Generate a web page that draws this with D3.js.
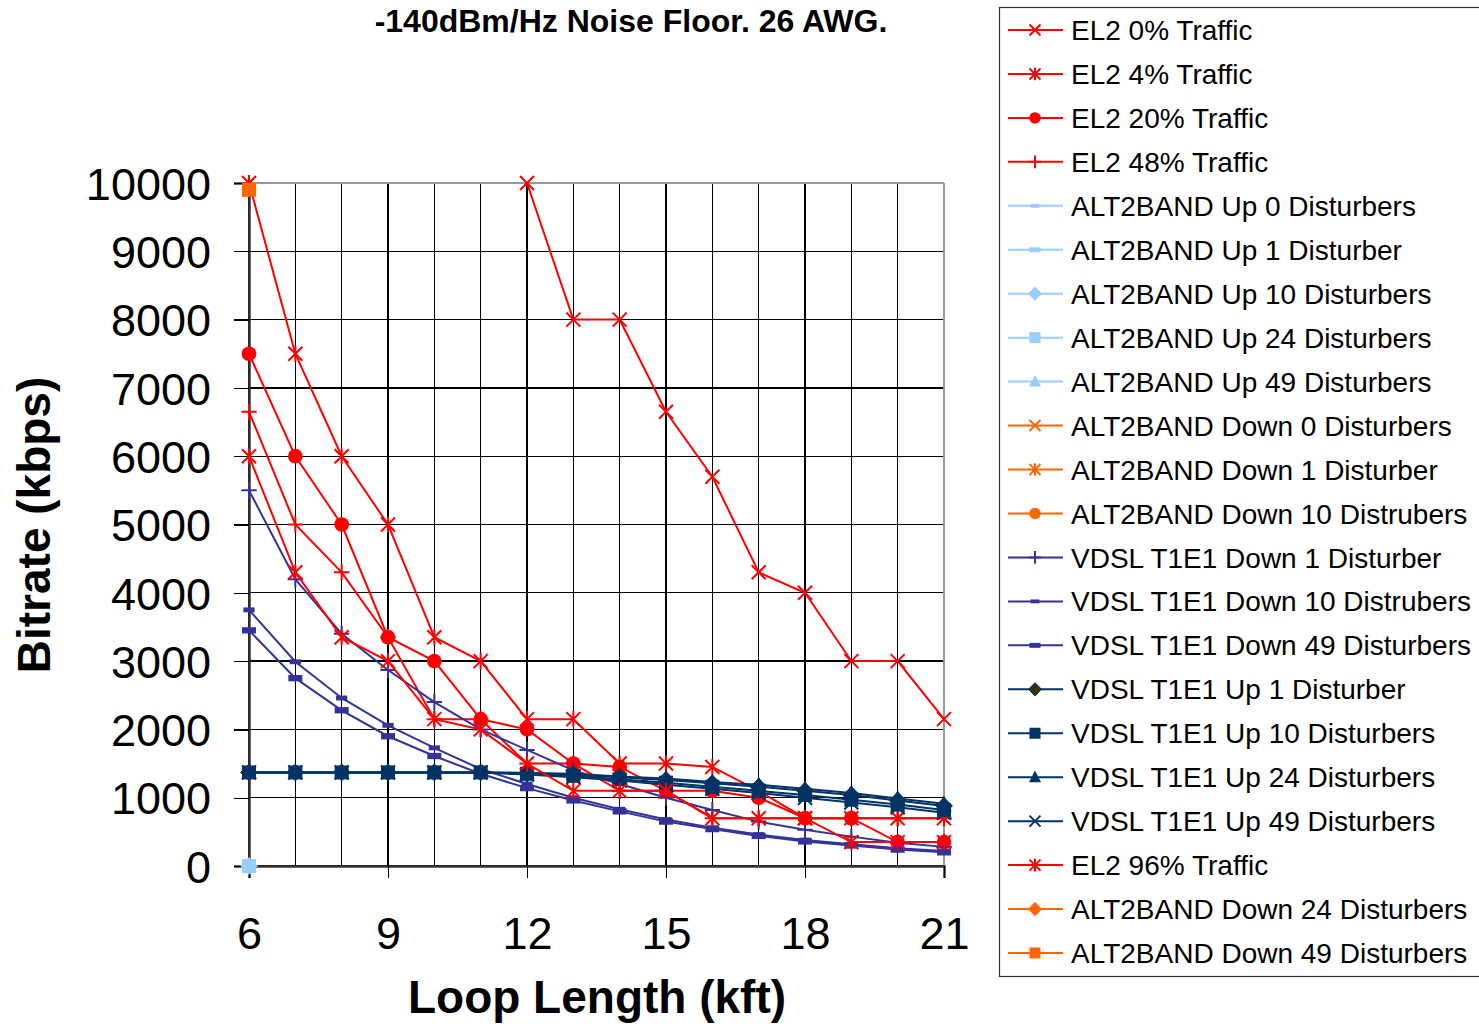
<html>
<head>
<meta charset="utf-8">
<script src="https://d3js.org/d3.v7.min.js"></script>
<style>
body { margin: 0; background: #fff; }
text { font-family: "Liberation Sans", Arial, sans-serif; }
</style>
</head>
<body>
<svg id="chart" width="1479" height="1024"></svg>
<script>
// loop lengths (kft) and tick labels
var loopKft = [6, 7, 8, 9, 10, 11, 12, 13, 14, 15, 16, 17, 18, 19, 20, 21];
var xTickValues = [6, 9, 12, 15, 18, 21];
var yTickValues = [0, 1000, 2000, 3000, 4000, 5000, 6000, 7000, 8000, 9000, 10000];

// bitrates (kbps); null = no visible point
var el2_0 = [null, null, null, null, null, null, 10000, 8000, 8000, 6650, 5700, 4300, 4000, 3000, 3000, 2150];
var el2_4 = [10000, 7500, 6000, 5000, 3350, 3000, 2150, 2150, 1500, 1500, 1450, 1100, 700, 700, 700, 700];
var el2_20 = [7500, 6000, 5000, 3350, 3000, 2150, 2000, 1500, 1450, 1100, 1100, 1000, 700, 700, 350, 350];
var el2_48 = [6650, 5000, 4300, 3350, 2150, 2150, 1500, 1500, 1100, 1100, 700, 700, 700, 700, 700, 700];
var el2_96 = [6000, 4300, 3350, 3000, 2150, 2000, 1500, 1100, 1100, 1100, 700, 700, 700, 350, 350, 350];

var altUp0 = [0, null, null, null, null, null, null, null, null, null, null, null, null, null, null, null];
var altUp1 = [0, null, null, null, null, null, null, null, null, null, null, null, null, null, null, null];
var altUp10 = [0, null, null, null, null, null, null, null, null, null, null, null, null, null, null, null];
var altUp24 = [0, null, null, null, null, null, null, null, null, null, null, null, null, null, null, null];
var altUp49 = [0, null, null, null, null, null, null, null, null, null, null, null, null, null, null, null];
var altDown0 = [];
var altDown1 = [];
var altDown10 = [];
var altDown24 = [];
var altDown49 = [9900, null, null, null, null, null, null, null, null, null, null, null, null, null, null, null];

var vdslDown1 = [5500, 4200, 3400, 2870, 2400, 2000, 1700, 1400, 1200, 1000, 820, 650, 530, 430, 340, 280];
var vdslDown10 = [3750, 2990, 2460, 2060, 1730, 1420, 1200, 1000, 830, 680, 560, 460, 380, 320, 260, 220];
var vdslDown49 = [3450, 2750, 2280, 1900, 1610, 1350, 1140, 960, 800, 650, 540, 440, 360, 300, 240, 200];

var vdslUp1 = [1370, 1370, 1370, 1370, 1370, 1370, 1360, 1340, 1300, 1260, 1210, 1160, 1100, 1040, 960, 880];
var vdslUp10 = [1370, 1370, 1370, 1370, 1370, 1370, 1350, 1320, 1270, 1220, 1160, 1100, 1040, 970, 900, 820];
var vdslUp24 = [1370, 1370, 1370, 1370, 1370, 1370, 1360, 1350, 1310, 1280, 1230, 1190, 1130, 1070, 990, 910];
var vdslUp49 = [1370, 1370, 1370, 1370, 1370, 1370, 1340, 1300, 1250, 1190, 1130, 1070, 1000, 930, 860, 780];

var seriesNames = ["EL2 0% Traffic", "EL2 4% Traffic", "EL2 20% Traffic", "EL2 48% Traffic",
  "ALT2BAND Up 0 Disturbers", "ALT2BAND Up 1 Disturber", "ALT2BAND Up 10 Disturbers",
  "ALT2BAND Up 24 Disturbers", "ALT2BAND Up 49 Disturbers", "ALT2BAND Down 0 Disturbers",
  "ALT2BAND Down 1 Disturber", "ALT2BAND Down 10 Distrubers", "VDSL T1E1 Down 1 Disturber",
  "VDSL T1E1 Down 10 Distrubers", "VDSL T1E1 Down 49 Disturbers", "VDSL T1E1 Up 1 Disturber",
  "VDSL T1E1 Up 10 Disturbers", "VDSL T1E1 Up 24 Disturbers", "VDSL T1E1 Up 49 Disturbers",
  "EL2 96% Traffic", "ALT2BAND Down 24 Disturbers", "ALT2BAND Down 49 Disturbers"];
var seriesValues = [el2_0, el2_4, el2_20, el2_48,
  altUp0, altUp1, altUp10, altUp24, altUp49, altDown0, altDown1, altDown10,
  vdslDown1, vdslDown10, vdslDown49, vdslUp1, vdslUp10, vdslUp24, vdslUp49,
  el2_96, altDown24, altDown49];

// styling per series
var red = "#ff0000", lblue = "#99ccff", orange = "#ff6600", blue = "#333399", navy = "#003366";
var styles = [
  {c: red, m: "x"}, {c: red, m: "star"}, {c: red, m: "circle"}, {c: red, m: "plus"},
  {c: lblue, m: "dashS"}, {c: lblue, m: "dashL"}, {c: lblue, m: "diamond"}, {c: lblue, m: "square"}, {c: lblue, m: "triangle"},
  {c: orange, m: "x"}, {c: orange, m: "star"}, {c: orange, m: "circle"},
  {c: blue, m: "plus"}, {c: blue, m: "dashS"}, {c: blue, m: "dashL"},
  {c: navy, m: "diamond", f: "#333300"}, {c: navy, m: "square"}, {c: navy, m: "triangle"}, {c: navy, m: "x"},
  {c: red, m: "star"}, {c: orange, m: "diamond"}, {c: orange, m: "square"}
];

var svg = d3.select("#chart");
var x = d3.scaleLinear().domain([6, 21]).range([249, 944]);
var y = d3.scaleLinear().domain([0, 10000]).range([866, 183]);

// grid
var grid = svg.append("g").attr("shape-rendering", "crispEdges");
grid.selectAll(".vg").data(loopKft).enter().append("line")
  .attr("x1", function(d) { return x(d); }).attr("x2", function(d) { return x(d); })
  .attr("y1", y(10000)).attr("y2", y(0))
  .attr("stroke", "#000").attr("stroke-width", 1.3);
grid.selectAll(".hg").data(yTickValues).enter().append("line")
  .attr("x1", x(6)).attr("x2", x(21))
  .attr("y1", function(d) { return y(d); }).attr("y2", function(d) { return y(d); })
  .attr("stroke", "#000").attr("stroke-width", 1.3);
// plot border top/right
grid.append("line").attr("x1", x(6)).attr("x2", x(21)).attr("y1", y(10000)).attr("y2", y(10000))
  .attr("stroke", "#999").attr("stroke-width", 2);
grid.append("line").attr("x1", x(21)).attr("x2", x(21)).attr("y1", y(10000)).attr("y2", y(0))
  .attr("stroke", "#999").attr("stroke-width", 2);

// axes
var yAxis = d3.axisLeft(y).tickValues(yTickValues).tickSize(15).tickPadding(23).tickFormat(d3.format("d"));
var gy = svg.append("g").attr("transform", "translate(" + x(6) + ",0)").call(yAxis);
var xAxis = d3.axisBottom(x).tickValues(xTickValues).tickSize(12).tickPadding(35).tickFormat(d3.format("d"));
var gx = svg.append("g").attr("transform", "translate(0," + y(0) + ")").call(xAxis);
[gx, gy].forEach(function(g) {
  g.select(".domain").attr("stroke", "#333").attr("stroke-width", 2.5);
  g.selectAll(".tick line").attr("stroke", "#000").attr("stroke-width", 1.3).attr("shape-rendering", "crispEdges");
  g.selectAll(".tick text").attr("fill", "#000").style("font-size", "45px")
    .style("font-family", "'Liberation Sans', Arial, sans-serif");
});
gy.selectAll(".tick text").attr("dy", "0.36em");
gx.selectAll(".tick text").attr("dy", "0.8em");

// marker drawing
function drawMarker(g, type, cx, cy, color, fill, s) {
  var sw = 2;
  if (type === "x" || type === "star" || type === "plus") {
    var p = "";
    if (type !== "plus") p += "M" + (cx - s) + "," + (cy - s) + "L" + (cx + s) + "," + (cy + s) +
      "M" + (cx - s) + "," + (cy + s) + "L" + (cx + s) + "," + (cy - s);
    if (type !== "x") p += "M" + cx + "," + (cy - s * 1.15) + "L" + cx + "," + (cy + s * 1.15);
    if (type === "plus") p += "M" + (cx - s * 1.1) + "," + cy + "L" + (cx + s * 1.1) + "," + cy;
    g.append("path").attr("d", p).attr("stroke", color).attr("stroke-width", sw).attr("fill", "none");
  } else if (type === "circle") {
    g.append("circle").attr("cx", cx).attr("cy", cy).attr("r", s * 1.05).attr("fill", color);
  } else if (type === "square") {
    g.append("rect").attr("x", cx - s).attr("y", cy - s).attr("width", 2 * s).attr("height", 2 * s).attr("fill", color);
  } else if (type === "dashS") {
    g.append("rect").attr("x", cx - s * 0.8).attr("y", cy - s * 0.35).attr("width", s * 1.6).attr("height", s * 0.7).attr("fill", color);
  } else if (type === "dashL") {
    g.append("rect").attr("x", cx - s).attr("y", cy - s * 0.45).attr("width", s * 2).attr("height", s * 0.9).attr("fill", color);
  } else if (type === "diamond") {
    g.append("path").attr("d", "M" + cx + "," + (cy - s * 1.2) + "L" + (cx + s * 1.2) + "," + cy + "L" + cx + "," + (cy + s * 1.2) + "L" + (cx - s * 1.2) + "," + cy + "Z")
      .attr("fill", fill || color).attr("stroke", color).attr("stroke-width", 1);
  } else if (type === "triangle") {
    g.append("path").attr("d", "M" + cx + "," + (cy - s * 1.2) + "L" + (cx + s * 1.1) + "," + (cy + s * 0.9) + "L" + (cx - s * 1.1) + "," + (cy + s * 0.9) + "Z")
      .attr("fill", color);
  }
}

// series
var line = d3.line()
  .defined(function(d) { return d[1] != null; })
  .x(function(d) { return x(d[0]); })
  .y(function(d) { return y(d[1]); });

seriesValues.forEach(function(vals, i) {
  var st = styles[i];
  var pts = loopKft.map(function(k, j) { return [k, vals[j] == null ? null : vals[j]]; });
  var g = svg.append("g");
  g.append("path").datum(pts).attr("d", line)
    .attr("fill", "none").attr("stroke", st.c).attr("stroke-width", 2);
  pts.filter(function(d) { return d[1] != null; }).forEach(function(d) {
    drawMarker(g, st.m, x(d[0]), y(d[1]), st.c, st.f, 7);
  });
});

// titles
svg.append("text").attr("x", 631).attr("y", 32).attr("text-anchor", "middle")
  .style("font-size", "32px").style("font-weight", "bold").text("-140dBm/Hz Noise Floor. 26 AWG.");
svg.append("text").attr("x", 597).attr("y", 1013).attr("text-anchor", "middle")
  .style("font-size", "46px").style("font-weight", "bold").text("Loop Length (kft)");
svg.append("text").attr("transform", "translate(50,525) rotate(-90)").attr("text-anchor", "middle")
  .style("font-size", "46px").style("font-weight", "bold").text("Bitrate (kbps)");

// legend
var legend = svg.append("g");
legend.append("rect").attr("x", 999.5).attr("y", 7.5).attr("width", 500).attr("height", 969)
  .attr("fill", "#fff").attr("stroke", "#333").attr("stroke-width", 1.2);
var legY = d3.scaleLinear().domain([0, seriesNames.length - 1]).range([30, 953]);
seriesNames.forEach(function(name, i) {
  var st = styles[i];
  var ly = legY(i);
  legend.append("line").attr("x1", 1008).attr("x2", 1063).attr("y1", ly).attr("y2", ly)
    .attr("stroke", st.c).attr("stroke-width", 2);
  drawMarker(legend, st.m, 1035, ly, st.c, st.f, 5.5);
  legend.append("text").attr("x", 1071).attr("y", ly).attr("dy", "0.36em")
    .style("font-size", "28px").text(name);
});
</script>
</body>
</html>
